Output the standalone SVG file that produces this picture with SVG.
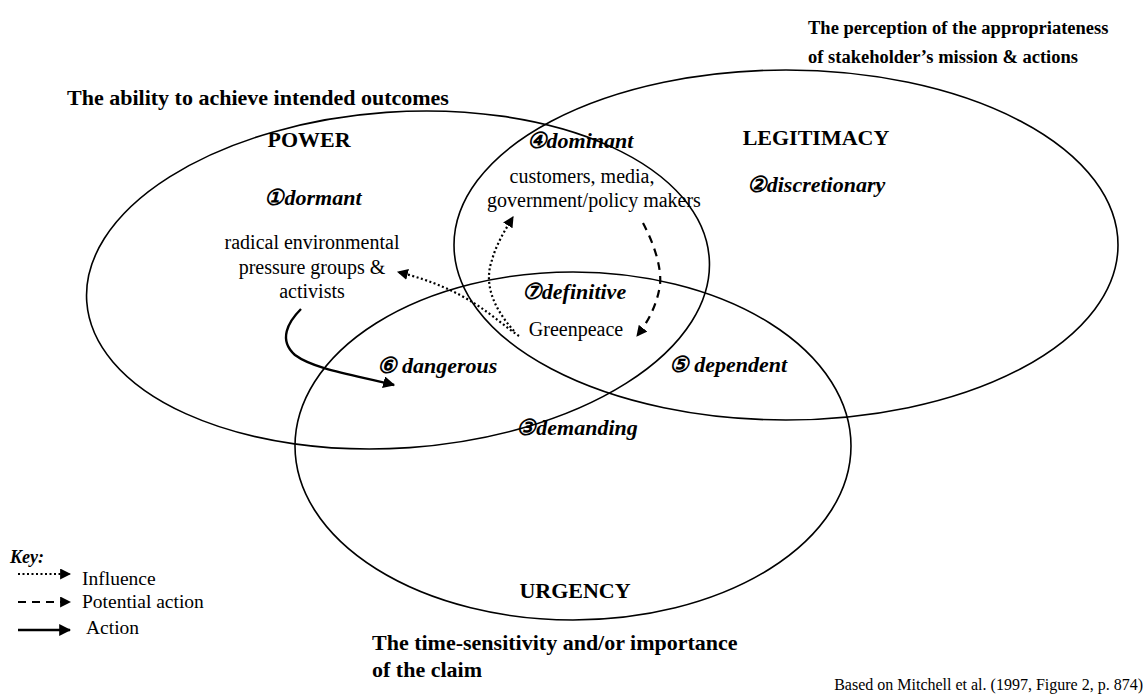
<svg xmlns="http://www.w3.org/2000/svg" width="1148" height="695" viewBox="0 0 1148 695">
<style>
  text { font-family: "Liberation Serif", "DejaVu Serif", serif; fill: #000; }
  .h { font-weight: bold; font-size: 22px; }
  .t { font-weight: bold; font-size: 18.5px; }
  .bi { font-weight: bold; font-style: italic; font-size: 22px; }
  .r { font-size: 20px; }
  .sm { font-size: 16px; }
  .k { font-size: 19.5px; }
  .circ { fill: none; stroke: #000; stroke-width: 1.6; }
  .dot { fill: none; stroke: #000; stroke-width: 2.2; stroke-dasharray: 2 2.5; }
  .dash { fill: none; stroke: #000; stroke-width: 2.2; stroke-dasharray: 8 6; }
  .sol { fill: none; stroke: #000; stroke-width: 2.4; }
</style>
<defs>
  <marker id="ah" viewBox="0 0 10 10" refX="9" refY="5" markerWidth="5" markerHeight="5" orient="auto" markerUnits="strokeWidth">
    <path d="M0,0 L10,5 L0,10 z" fill="#000"/>
  </marker>
</defs>
<rect width="1148" height="695" fill="#fff"/>

<g id="power">
  <ellipse class="circ" cx="398" cy="280" rx="312" ry="168" transform="rotate(-4 398 280)"/>
  <text class="h" x="309" y="147" text-anchor="middle">POWER</text>
  <text class="bi" x="313" y="205" text-anchor="middle">①dormant</text>
  <text class="r" x="312" y="249" text-anchor="middle">radical environmental</text>
  <text class="r" x="312" y="274" text-anchor="middle">pressure groups &amp;</text>
  <text class="r" x="312" y="298" text-anchor="middle">activists</text>
</g>

<g id="legitimacy">
  <ellipse class="circ" cx="786" cy="245" rx="332" ry="175"/>
  <text class="h" x="816" y="145" text-anchor="middle">LEGITIMACY</text>
  <text class="bi" x="816" y="192" text-anchor="middle">②discretionary</text>
</g>

<g id="urgency">
  <ellipse class="circ" cx="573" cy="446" rx="278" ry="174"/>
  <text class="h" x="575" y="598" text-anchor="middle">URGENCY</text>
  <text class="bi" x="577" y="435" text-anchor="middle">③demanding</text>
</g>

<g id="dominant">
  <text class="bi" x="580" y="148" text-anchor="middle">④dominant</text>
  <text class="r" x="582" y="183" text-anchor="middle">customers, media,</text>
  <text class="r" x="594" y="207" text-anchor="middle">government/policy makers</text>
</g>

<g id="dependent">
  <text class="bi" x="728" y="372" text-anchor="middle">⑤ dependent</text>
</g>

<g id="dangerous">
  <text class="bi" x="437" y="373" text-anchor="middle">⑥ dangerous</text>
</g>

<g id="definitive">
  <text class="bi" x="574" y="299" text-anchor="middle">⑦definitive</text>
  <text class="r" x="576" y="336" text-anchor="middle">Greenpeace</text>
</g>

<g id="titles">
  <text class="h" x="67" y="105">The ability to achieve intended outcomes</text>
  <text class="t" x="808" y="34">The perception of the appropriateness</text>
  <text class="t" x="808" y="63">of stakeholder’s mission &amp; actions</text>
  <text class="h" x="372" y="650">The time-sensitivity and/or importance</text>
  <text class="h" x="372" y="677">of the claim</text>
  <text class="sm" x="1143" y="690" text-anchor="end">Based on Mitchell et al. (1997, Figure 2, p. 874)</text>
</g>

<g id="connectors">
  <path class="dot" d="M519 336 C 492 318, 470 290, 398 272" marker-end="url(#ah)"/>
  <path class="dot" d="M514 331 C 495 310, 483 285, 492 260 C 496 245, 505 230, 513 217" marker-end="url(#ah)"/>
  <path class="dash" d="M643 223 C 652 240, 662 265, 660 285 C 657 305, 648 322, 637 336" marker-end="url(#ah)"/>
  <path class="sol" d="M301 309 C 288 322, 278 340, 295 355 C 315 370, 360 376, 394 385" marker-end="url(#ah)"/>
</g>

<g id="key">
  <text class="bi" x="10" y="563" style="font-size:18px">Key:</text>
  <path class="dot" d="M18 574 L70 574" marker-end="url(#ah)"/>
  <text class="k" x="82" y="585">Influence</text>
  <path class="dash" d="M18 602 L70 602" marker-end="url(#ah)"/>
  <text class="k" x="82" y="608">Potential action</text>
  <path class="sol" d="M18 630 L70 630" marker-end="url(#ah)"/>
  <text class="k" x="86" y="634">Action</text>
</g>
</svg>
